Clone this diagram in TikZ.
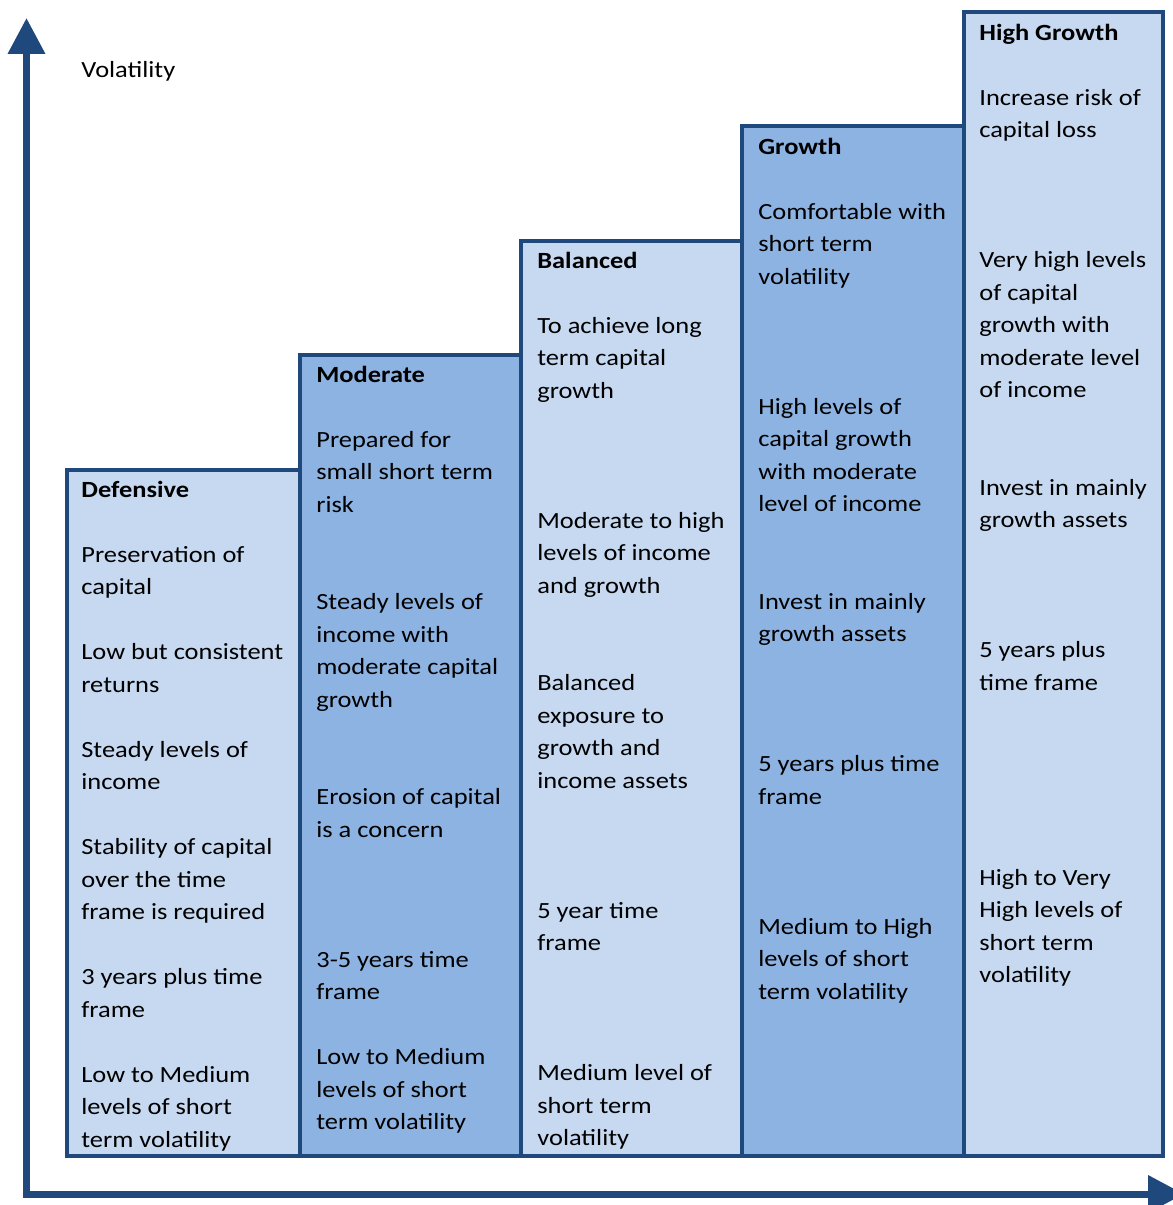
\documentclass[tikz,border=0pt]{standalone}
\usepackage{fontspec}
\setmainfont{Carlito}[FakeStretch=1.14]
\usepackage{tikz}
\usetikzlibrary{arrows.meta}
\definecolor{frameColor}{RGB}{31,73,125}
\definecolor{lightColor}{RGB}{198,217,241}
\definecolor{darkColor}{RGB}{141,179,226}

\begin{document}
\begin{tikzpicture}[x=0.02cm, y=-0.02cm]

            \tikzstyle{lightBox} = [draw=frameColor, line width=2.3pt, fill=lightColor];
            \tikzstyle{darkBox} = [draw=frameColor, line width=2.3pt, fill=darkColor];
            \tikzstyle{columnText} = [anchor=north west, inner sep=0pt, align=left, font=\fontsize{13.2pt}{18.5pt}\selectfont];
            \tikzstyle{axisLine} = [draw=frameColor, line width=4pt, {Triangle[width=20.4pt,length=20.4pt]}-{Triangle[width=20.4pt,length=20.4pt]}];

            \useasboundingbox (0,0) rectangle (1173,1205);

            % the steps
            \draw[lightBox] (67,470) rectangle (300,1156);
            \draw[darkBox]  (300,355) rectangle (521,1156);
            \draw[lightBox] (521,241) rectangle (742,1156);
            \draw[darkBox]  (742,126) rectangle (964,1156);
            \draw[lightBox] (964,12) rectangle (1163,1156);

            \node[columnText] (defensive) at (81,474.2) {\strut\textbf{Defensive}\\ \\
                Preservation of\\ capital\\ \\
                Low but consistent\\ returns\\ \\
                Steady levels of\\ income\\ \\
                Stability of capital\\ over the time\\ frame is required\\ \\
                3 years plus time\\ frame\\ \\
                Low to Medium\\ levels of short\\ term volatility};

            \node[columnText] (moderate) at (316,359.2) {\strut\textbf{Moderate}\\ \\
                Prepared for\\ small short term\\ risk\\ \\ \\
                Steady levels of\\ income with\\ moderate capital\\ growth\\ \\ \\
                Erosion of capital\\ is a concern\\ \\ \\ \\
                3-5 years time\\ frame\\ \\
                Low to Medium\\ levels of short\\ term volatility};

            \node[columnText] (balanced) at (537,245.2) {\strut\textbf{Balanced}\\ \\
                To achieve long\\ term capital\\ growth\\ \\ \\ \\
                Moderate to high\\ levels of income\\ and growth\\ \\ \\
                Balanced\\ exposure to\\ growth and\\ income assets\\ \\ \\ \\
                5 year time\\ frame\\ \\ \\ \\
                Medium level of\\ short term\\ volatility};

            \node[columnText] (growth) at (758,131.2) {\strut\textbf{Growth}\\ \\
                Comfortable with\\ short term\\ volatility\\ \\ \\ \\
                High levels of\\ capital growth\\ with moderate\\ level of income\\ \\ \\
                Invest in mainly\\ growth assets\\ \\ \\ \\
                5 years plus time\\ frame\\ \\ \\ \\
                Medium to High\\ levels of short\\ term volatility};

            \node[columnText] (highGrowth) at (979,17.2) {\strut\textbf{High Growth}\\ \\
                Increase risk of\\ capital loss\\ \\ \\ \\
                Very high levels\\ of capital\\ growth with\\ moderate level\\ of income\\ \\ \\
                Invest in mainly\\ growth assets\\ \\ \\ \\
                5 years plus\\ time frame\\ \\ \\ \\ \\ \\
                High to Very\\ High levels of\\ short term\\ volatility};

            % axes
            \coordinate (yEnd)   at (26.5,18);
            \coordinate (origin) at (26.5,1194);
            \coordinate (xEnd)   at (1184,1194);
            \draw[axisLine] (yEnd) -- (origin) -- (xEnd);

            \node[columnText] (volatility) at (81,54.2) {\strut Volatility};
\end{tikzpicture}
\end{document}
